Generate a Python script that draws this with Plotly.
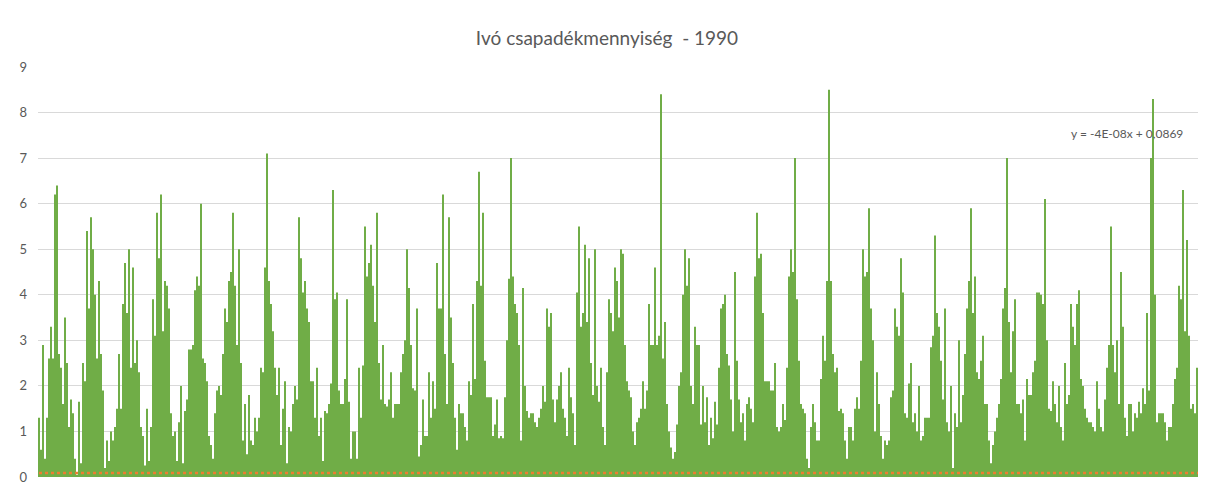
import plotly.graph_objects as go

# Precipitation values (approx. one value per 2 px of the original plot)
seg1 = [1.3, 0.6, 2.9, 0.4, 1.3, 2.6, 3.3, 2.6, 6.2, 6.4, 2.7, 2.4, 1.6, 3.5, 2.5, 1.1, 1.7, 1.4, 0.4, 0.05,
        1.65, 0.3, 2.5, 2.1, 5.4, 3.7, 5.7, 5.0, 4.0, 2.6, 4.3, 2.7, 1.9, 0.2, 0.8, 0.35, 1.0, 0.8, 1.1, 1.5,
        2.7, 1.5, 3.8, 4.7, 3.6, 5.0]
seg2 = [2.4, 4.6, 2.5, 3.0, 2.3, 1.1, 0.9, 0.25, 1.5, 0.35, 1.1, 3.9, 3.1, 5.8, 4.8, 6.2, 3.2, 4.3, 4.2, 3.7,
        1.4, 0.9, 1.0, 0.35, 1.2, 2.0, 0.3, 1.45, 1.7, 2.8, 2.8, 2.9, 4.1, 4.4, 4.2, 6.0, 2.6, 2.5, 2.1, 0.9,
        0.7, 0.4, 1.4, 1.9, 2.0, 1.8, 2.7, 3.7, 3.4, 4.3]
seg3 = [4.5, 5.8, 4.2, 2.9, 5.0, 2.5, 0.8, 1.6, 0.5, 1.8, 0.8, 0.7, 1.3, 1.0, 1.3, 2.4, 2.3, 4.6, 7.1, 4.3,
        3.8, 3.2, 2.4, 1.8, 2.4, 0.7, 1.5, 2.1, 0.3, 1.1, 1.0, 1.6, 2.0, 1.7, 5.7, 4.8, 4.05, 4.3, 3.7, 3.4,
        2.1, 2.1, 1.3, 2.4, 0.9, 1.3, 0.35, 1.45, 1.4, 1.6]
seg4 = [2.05, 6.3, 3.9, 4.05, 1.9, 1.6, 1.6, 2.15, 3.9, 1.65, 0.4, 1.0, 1.0, 0.4, 2.4, 1.3, 2.45, 5.5, 4.4, 4.7,
        5.1, 4.2, 3.4, 5.8, 2.5, 1.7, 2.9, 1.6, 1.55, 1.7, 2.3, 1.3, 1.6, 1.6, 1.6, 2.3, 2.7, 3.0, 5.0, 4.15,
        2.9, 1.95, 1.9, 3.7, 0.45, 0.7, 1.7, 0.9, 0.9, 2.3]
seg5 = [1.3, 2.1, 1.5, 4.7, 3.7, 3.7, 6.2, 2.7, 1.6, 5.7, 3.5, 2.5, 1.3, 0.6, 1.6, 1.4, 1.4, 1.1, 0.8, 2.1,
        1.8, 3.8, 2.15, 4.3, 6.7, 4.2, 5.8, 2.55, 1.75, 1.75, 1.75, 0.9, 1.15, 1.7, 0.85, 0.9, 0.85, 1.75, 3.0, 4.35,
        7.0, 4.4, 3.8, 3.6, 2.9, 0.8, 4.15, 2.0, 1.45, 1.3]
seg6 = [1.4, 1.4, 1.2, 1.1, 1.3, 1.5, 2.0, 1.65, 3.7, 3.3, 3.6, 1.7, 1.2, 1.7, 2.0, 2.3, 1.5, 1.3, 0.9, 2.4,
        1.75, 1.4, 0.7, 4.05, 5.5, 3.3, 3.6, 5.1, 3.4, 4.8, 2.5, 1.8, 5.0, 2.0, 1.65, 2.4, 1.1, 0.7, 2.3, 3.9,
        3.6, 3.2, 4.6, 4.3, 3.5, 5.0, 4.9, 2.9, 2.1, 1.9]
seg7 = [1.75, 1.0, 0.7, 1.2, 1.3, 1.5, 2.1, 1.5, 1.9, 3.8, 2.9, 2.9, 4.6, 2.9, 3.1, 8.4, 2.6, 3.4, 1.6, 1.0,
        0.65, 0.4, 0.55, 1.15, 2.0, 2.3, 4.0, 5.0, 4.2, 4.8, 2.0, 1.6, 3.3, 2.9, 2.9, 1.15, 2.0, 1.2, 1.75, 0.7,
        1.3, 0.85, 1.65, 1.15, 2.4, 3.7, 3.8, 4.0, 2.7, 2.45]
seg8 = [1.7, 1.0, 4.5, 2.55, 1.7, 1.2, 1.4, 0.8, 1.6, 1.75, 1.5, 1.2, 4.4, 5.8, 4.8, 4.9, 3.6, 2.1, 2.1, 2.1,
        1.9, 1.9, 2.5, 1.1, 1.0, 1.1, 1.6, 1.25, 2.4, 4.4, 5.0, 4.5, 7.0, 3.9, 2.55, 1.6, 1.5, 1.4, 0.4, 0.2,
        1.1, 1.6, 1.2, 0.8, 0.8, 2.15, 3.1, 2.55, 4.3, 8.5]
seg9 = [4.3, 2.7, 2.3, 2.4, 1.45, 1.5, 1.4, 0.8, 0.4, 1.1, 1.1, 0.8, 1.5, 1.75, 1.5, 2.55, 5.0, 4.4, 4.5, 5.9,
        3.7, 3.0, 1.0, 2.3, 1.6, 0.9, 0.4, 0.8, 0.7, 0.8, 1.75, 1.9, 3.7, 3.3, 3.1, 4.8, 4.05, 1.4, 1.3, 2.05,
        2.5, 1.2, 1.4, 1.0, 2.0, 0.8, 0.9, 1.3, 1.3, 1.3]
seg10 = [2.85, 3.1, 5.3, 3.6, 3.3, 2.55, 1.7, 3.7, 1.2, 1.0, 2.0, 0.2, 1.4, 1.1, 3.0, 1.2, 1.8, 2.7, 3.7, 4.3,
         5.9, 3.6, 4.4, 2.3, 2.15, 2.55, 3.1, 1.6, 1.6, 0.8, 0.3, 0.7, 1.0, 1.3, 1.6, 2.15, 3.7, 4.15, 7.0, 3.4,
         2.3, 3.2, 3.9, 1.6, 1.6, 1.4, 1.7, 0.8, 2.15, 1.8]
seg11 = [1.8, 2.3, 2.55, 4.05, 4.05, 4.0, 3.8, 6.1, 3.0, 1.5, 1.45, 2.1, 1.6, 1.2, 2.0, 1.1, 0.8, 2.5, 1.6, 1.8,
         3.8, 3.3, 2.9, 3.8, 4.1, 2.15, 2.0, 1.5, 1.3, 1.2, 1.2, 1.1, 1.0, 2.1, 1.5, 1.1, 1.0, 1.7, 2.4, 2.9,
         5.5, 2.9, 2.3, 3.0, 1.6, 4.5, 3.3, 1.3, 0.9, 1.6]
seg12 = [1.6, 1.0, 1.4, 1.3, 1.65, 1.4, 1.95, 1.6, 3.6, 1.9, 7.0, 8.3, 4.0, 1.2, 1.4, 1.4, 1.4, 1.2, 0.8, 1.1,
         1.1, 1.6, 2.15, 2.4, 4.2, 3.9, 6.3, 3.2, 5.2, 3.1, 1.5, 1.6, 1.4, 2.4, 2.4]

values = seg1 + seg2 + seg3 + seg4 + seg5 + seg6 + seg7 + seg8 + seg9 + seg10 + seg11 + seg12
index = list(range(1, len(values) + 1))

# Linear trendline as stated in the reference label
trend_slope = -4e-08
trend_intercept = 0.0869
trend_label = "y = -4E-08x + 0,0869"
title_text = "Ivó csapadékmennyiség  - 1990"
y_ticks = [0, 1, 2, 3, 4, 5, 6, 7, 8, 9]

trend_y = [trend_intercept + trend_slope * i for i in index]

fig = go.Figure()
fig.add_trace(go.Bar(x=index, y=values, marker=dict(color="#70AD47", line=dict(width=0)),
                     showlegend=False))
fig.add_trace(go.Scatter(x=index, y=trend_y, mode="lines",
                         line=dict(color="#ED7D31", width=2.5, dash="dot"), showlegend=False))

fig.update_layout(
    width=1198, height=483,
    margin=dict(l=30, r=6, t=59, b=12),
    paper_bgcolor="white", plot_bgcolor="white",
    bargap=0.3,
    title=dict(text=title_text, x=0.5, xanchor="center", y=0.938, yanchor="middle",
               font=dict(family="Lato, Open Sans, sans-serif", size=19, color="#595959")),
    xaxis=dict(range=[0.5, len(values) + 0.5], showticklabels=False, showgrid=False,
               zeroline=False, showline=False, ticks=""),
    yaxis=dict(range=[0, 9], tickvals=y_ticks, showgrid=True, gridcolor="#D9D9D9", gridwidth=1,
               zeroline=False, showline=False, ticks="", ticklabelstandoff=10,
               tickfont=dict(family="Lato, Open Sans, sans-serif", size=13, color="#595959")),
    annotations=[dict(text=trend_label, xref="paper", yref="y", x=0.987, y=7.55,
                      xanchor="right", yanchor="middle", showarrow=False,
                      font=dict(family="Lato, Open Sans, sans-serif", size=12, color="#595959"))],
)

fig.write_html("out.html")
